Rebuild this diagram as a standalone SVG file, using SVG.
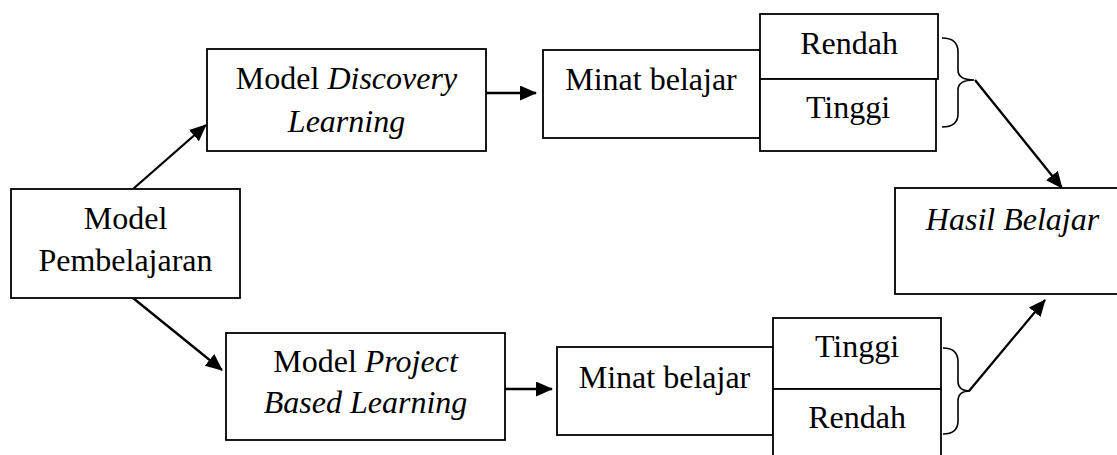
<svg xmlns="http://www.w3.org/2000/svg" width="1117" height="455" viewBox="0 0 1117 455">
<style>
.box{fill:#fff;stroke:#000;stroke-width:1.8}
text{font-family:'Liberation Serif','Times New Roman',Tinos,'DejaVu Serif',serif;font-size:32px;fill:#000;text-anchor:middle}
.i{font-style:italic}
.c{fill:none;stroke:#000;stroke-width:2.3}
.br{fill:none;stroke:#000;stroke-width:1.6}
</style>
<defs>
<marker id="ah" markerUnits="userSpaceOnUse" markerWidth="19" markerHeight="16" refX="16" refY="7.5" orient="auto">
<path d="M0,0 L17,7.5 L0,15 z" fill="#000"/>
</marker>
</defs>
<rect width="1117" height="455" fill="#fff"/>
<g id="connectors">
<line class="c" x1="133" y1="189" x2="206" y2="125" marker-end="url(#ah)"/>
<line class="c" x1="133" y1="298" x2="222" y2="370" marker-end="url(#ah)"/>
<line class="c" x1="486" y1="93" x2="536" y2="93" marker-end="url(#ah)"/>
<line class="c" x1="505" y1="389" x2="552" y2="389" marker-end="url(#ah)"/>
<line class="c" x1="975" y1="80" x2="1062" y2="188" marker-end="url(#ah)"/>
<line class="c" x1="969" y1="391" x2="1045" y2="300" marker-end="url(#ah)"/>
<path class="br" d="M942,38 Q958,38 958,52 L958,70 Q958,80 974,80 Q958,80 958,90 L958,114 Q958,127 942,127"/>
<path class="br" d="M943,348 Q958,348 958,362 L958,381 Q958,391 970,391 Q958,391 958,401 L958,421 Q958,434 943,434"/>
</g>
<g id="model-pembelajaran">
<rect class="box" x="11" y="189" width="229" height="109"/>
<text x="125.5" y="229">Model</text>
<text x="125.5" y="271">Pembelajaran</text>
</g>
<g id="model-discovery">
<rect class="box" x="207" y="49" width="279" height="102"/>
<text x="346.5" y="89">Model <tspan class="i">Discovery</tspan></text>
<text class="i" x="346.5" y="132">Learning</text>
</g>
<g id="model-pbl">
<rect class="box" x="226" y="333" width="279" height="107"/>
<text x="365.5" y="372">Model <tspan class="i">Project</tspan></text>
<text class="i" x="365.5" y="413">Based Learning</text>
</g>
<g id="minat-atas">
<rect class="box" x="543" y="50" width="217" height="88"/>
<text x="651" y="90">Minat belajar</text>
</g>
<g id="rendah-atas">
<rect class="box" x="760" y="14" width="178" height="65"/>
<text x="849" y="54">Rendah</text>
</g>
<g id="tinggi-atas">
<rect class="box" x="760" y="79" width="176" height="72"/>
<text x="848" y="118">Tinggi</text>
</g>
<g id="minat-bawah">
<rect class="box" x="557" y="347" width="216" height="88"/>
<text x="664.5" y="388">Minat belajar</text>
</g>
<g id="tinggi-bawah">
<rect class="box" x="773" y="318" width="168" height="71"/>
<text x="857" y="357">Tinggi</text>
</g>
<g id="rendah-bawah">
<rect class="box" x="773" y="389" width="168" height="75"/>
<text x="857" y="428">Rendah</text>
</g>
<g id="hasil-belajar">
<rect class="box" x="895" y="188" width="235" height="106"/>
<text class="i" x="1012.5" y="230">Hasil Belajar</text>
</g>
</svg>
